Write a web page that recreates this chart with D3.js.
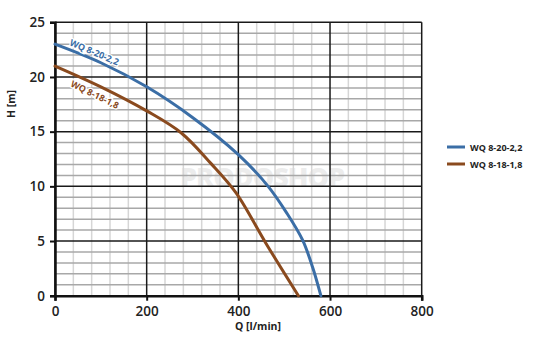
<!DOCTYPE html>
<html>
<head>
<meta charset="utf-8">
<script src="https://cdn.jsdelivr.net/npm/d3@7"></script>
<style>
  html, body { margin: 0; padding: 0; background: #fff; }
  svg { display: block; font-family: "Open Sans", Lato, sans-serif; }
</style>
</head>
<body>
<svg id="chart" width="534" height="350"></svg>
<script>
// Pump performance curves: head H [m] versus flow Q [l/min]
const seriesNames = ["WQ 8-20-2,2", "WQ 8-18-1,8"];
const seriesColors = ["#3b6ea6", "#8a4a1e"];
const q_20_22 = [0, 100, 200, 300, 400, 465, 505, 540, 562, 580];
const h_20_22 = [23, 21.3, 19.1, 16.3, 12.9, 10, 7.6, 5.1, 2.6, 0];
const q_18_18 = [0, 100, 200, 275, 340, 395, 460, 531];
const h_18_18 = [21, 19.1, 16.9, 14.9, 12.1, 9.4, 4.8, 0];
const xTicks = [0, 200, 400, 600, 800];
const yTicks = [0, 5, 10, 15, 20, 25];

const svg = d3.select("#chart");
const x = d3.scaleLinear().domain([0, 800]).range([55, 421.7]);
const y = d3.scaleLinear().domain([0, 25]).range([295.7, 22.3]);

// faint brand mark behind the grid
svg.append("text")
  .attr("x", 262).attr("y", 187)
  .attr("text-anchor", "middle")
  .attr("font-size", 27).attr("font-weight", 800)
  .attr("fill", "#000").attr("opacity", 0.07)
  .attr("letter-spacing", -1)
  .text("PRODOSHOP");

// minor grid
const g = svg.append("g");
g.selectAll(".vminor").data(d3.range(0, 801, 40).filter(v => v % 200 !== 0))
  .join("line")
  .attr("x1", d => x(d)).attr("x2", d => x(d))
  .attr("y1", y(0)).attr("y2", y(25))
  .attr("stroke", "#d6d6d6").attr("stroke-width", 1.5);
g.selectAll(".hminor").data(d3.range(0, 26, 1).filter(v => v % 5 !== 0))
  .join("line")
  .attr("x1", x(0)).attr("x2", x(800))
  .attr("y1", d => y(d)).attr("y2", d => y(d))
  .attr("stroke", "#a8a8a8").attr("stroke-width", 1.5);

// major grid
g.selectAll(".vmajor").data(xTicks)
  .join("line")
  .attr("x1", d => x(d)).attr("x2", d => x(d))
  .attr("y1", y(0)).attr("y2", y(25))
  .attr("stroke", "#1a1a1a").attr("stroke-width", 1.5);
g.selectAll(".hmajor").data(yTicks)
  .join("line")
  .attr("x1", x(0)).attr("x2", x(800))
  .attr("y1", d => y(d)).attr("y2", d => y(d))
  .attr("stroke", "#1a1a1a").attr("stroke-width", 1.5);

// axes
const xAxis = svg.append("g").attr("transform", `translate(0,${y(0)})`)
  .call(d3.axisBottom(x).tickValues(xTicks).tickSize(5).tickPadding(6));
const yAxis = svg.append("g").attr("transform", `translate(${x(0)},0)`)
  .call(d3.axisLeft(y).tickValues(yTicks).tickSize(5).tickPadding(5));
[xAxis, yAxis].forEach(a => {
  a.select(".domain").attr("stroke", "#111").attr("stroke-width", 2.5);
  a.selectAll(".tick line").attr("stroke", "#111").attr("stroke-width", 2);
  a.selectAll(".tick text").attr("fill", "#222")
    .attr("font-size", 13.5).attr("font-weight", 600)
    .attr("font-family", "'Open Sans', Lato, sans-serif");
});

// axis titles
svg.append("text")
  .attr("x", 258).attr("y", 330).attr("text-anchor", "middle")
  .attr("font-size", 10.5).attr("font-weight", 700).attr("fill", "#222")
  .text("Q [l/min]");
svg.append("text")
  .attr("transform", "translate(15,104) rotate(-90)")
  .attr("text-anchor", "middle")
  .attr("font-size", 10.5).attr("font-weight", 700).attr("fill", "#222")
  .text("H [m]");

// curves
const line = d3.line().x(d => x(d[0])).y(d => y(d[1])).curve(d3.curveCatmullRom.alpha(0.5));
const curves = [d3.zip(q_20_22, h_20_22), d3.zip(q_18_18, h_18_18)];
svg.selectAll(".curve").data(curves).join("path")
  .attr("d", line)
  .attr("fill", "none")
  .attr("stroke", (d, i) => seriesColors[i])
  .attr("stroke-width", 3)
  .attr("stroke-linecap", "round");

// inline curve labels
const inline = [
  { name: seriesNames[0], color: seriesColors[0], px: 69, py: 45, angle: 23 },
  { name: seriesNames[1], color: seriesColors[1], px: 70, py: 86, angle: 26 }
];
svg.selectAll(".clabel").data(inline).join("text")
  .attr("transform", d => `translate(${d.px},${d.py}) rotate(${d.angle})`)
  .attr("font-size", 9).attr("font-weight", 700)
  .attr("fill", d => d.color)
  .attr("stroke", "#fff").attr("stroke-width", 2.5)
  .attr("paint-order", "stroke")
  .text(d => d.name);

// legend
const leg = svg.append("g");
seriesNames.forEach((name, i) => {
  const yy = 147 + i * 17;
  leg.append("line")
    .attr("x1", 447).attr("x2", 465).attr("y1", yy).attr("y2", yy)
    .attr("stroke", seriesColors[i]).attr("stroke-width", 3);
  leg.append("text")
    .attr("x", 470).attr("y", yy + 3.5)
    .attr("font-size", 9).attr("font-weight", 700).attr("fill", "#222")
    .text(name);
});
</script>
</body>
</html>
